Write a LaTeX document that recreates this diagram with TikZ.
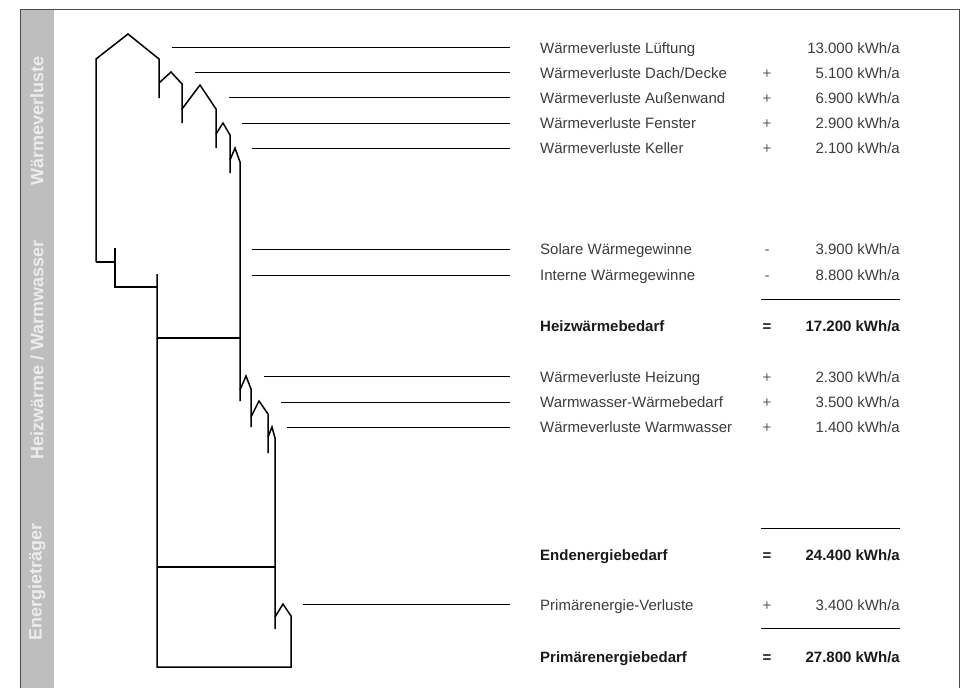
\documentclass[tikz,border=0pt]{standalone}
\usepackage{fontspec}
\setmainfont{Liberation Sans}
\definecolor{bargray}{RGB}{190,190,190}
\definecolor{bartext}{RGB}{236,236,236}
\definecolor{txtgray}{RGB}{60,60,60}
\definecolor{opgray}{RGB}{90,90,90}
\tikzset{
  house/.style={line width=1.5pt, line join=miter},
  leader/.style={line width=0.9pt, shorten >=30pt},
  sumline/.style={line width=0.9pt},
  lbl/.style={anchor=base west, inner sep=0pt, text=txtgray, font=\fontsize{15}{18}\selectfont},
  val/.style={anchor=base east, inner sep=0pt, text=txtgray, font=\fontsize{15}{18}\selectfont},
  op/.style={anchor=base, inner sep=0pt, text=opgray, font=\fontsize{15}{18}\selectfont},
  boldrow/.style={text=black!90, font=\fontsize{15}{18}\selectfont\bfseries},
  bartxt/.style={rotate=90, inner sep=0pt, text=bartext, font=\fontsize{18}{20}\selectfont\bfseries}
}

\begin{document}
\begin{tikzpicture}[x=1pt, y=-1pt]
      \useasboundingbox (0,0) rectangle (960,688);

      % frame and side bar
      \fill [bargray] (20,9) rectangle (54,688);
      \draw [line width=0.9pt, black!70] (20,688) -- (20,9) -- (959,9) -- (959,688);

      \node at (37,121) [bartxt, name=b1] {Wärmeverluste};
      \node at (37,350) [bartxt, name=b2] {Heizwärme / Warmwasser};
      \node at (37,582) [bartxt, name=b3] {Energieträger};

      % the house
      \draw [house] (96,262) -- (96,59) -- (128,34) -- (159,59) -- (159,98);
      \draw [house] (159,83) -- (171,72) -- (182,84) -- (182,123);
      \draw [house] (182,109) -- (200,85) -- (216,109) -- (216,148);
      \draw [house] (216,134) -- (223,123) -- (230,135) -- (230,173);
      \draw [house] (230,160) -- (235,148) -- (240,162) -- (240,401);
      \draw [house] (240,390) -- (246,376) -- (251,389) -- (251,427);
      \draw [house] (251,417) -- (259,401) -- (268,414) -- (268,453);
      \draw [house] (268,437) -- (272,427) -- (275,438) -- (275,629);
      \draw [house] (275,617) -- (283,604) -- (291,616) -- (291,667) -- (157,667) -- (157,274);
      \draw [house] (96,262) -- (115,262);
      \draw [house] (115,248) -- (115,287) -- (157,287);
      \draw [line width=1.1pt] (157,338) -- (240,338);
      \draw [line width=1.1pt] (157,567) -- (275,567);

      % leader start points
      \coordinate (c1) at (172,47);
      \coordinate (c2) at (195,72);
      \coordinate (c3) at (229,97);
      \coordinate (c4) at (242,123);
      \coordinate (c5) at (252,148);
      \coordinate (c6) at (252,249);
      \coordinate (c7) at (252,275);
      \coordinate (c8) at (264,376);
      \coordinate (c9) at (281,402);
      \coordinate (c10) at (287,427);
      \coordinate (c11) at (303,604);

      % labels
      \node at (540,53) [lbl, name=t1] {Wärmeverluste Lüftung};
      \node at (540,78) [lbl, name=t2] {Wärmeverluste Dach/Decke};
      \node at (540,103) [lbl, name=t3] {Wärmeverluste Außenwand};
      \node at (540,128) [lbl, name=t4] {Wärmeverluste Fenster};
      \node at (540,153) [lbl, name=t5] {Wärmeverluste Keller};
      \node at (540,254) [lbl, name=t6] {Solare Wärmegewinne};
      \node at (540,280) [lbl, name=t7] {Interne Wärmegewinne};
      \node at (540,331) [lbl, boldrow, name=t8] {Heizwärmebedarf};
      \node at (540,382) [lbl, name=t9] {Wärmeverluste Heizung};
      \node at (540,407) [lbl, name=t10] {Warmwasser-Wärmebedarf};
      \node at (540,432) [lbl, name=t11] {Wärmeverluste Warmwasser};
      \node at (540,560) [lbl, boldrow, name=t12] {Endenergiebedarf};
      \node at (540,610) [lbl, name=t13] {Primärenergie-Verluste};
      \node at (540,662) [lbl, boldrow, name=t14] {Primärenergiebedarf};

      % operators
      \node at (767,78) [op, name=o2] {+};
      \node at (767,103) [op, name=o3] {+};
      \node at (767,128) [op, name=o4] {+};
      \node at (767,153) [op, name=o5] {+};
      \node at (767,254) [op, name=o6] {-};
      \node at (767,280) [op, name=o7] {-};
      \node at (767,331) [op, boldrow, name=o8] {=};
      \node at (767,382) [op, name=o9] {+};
      \node at (767,407) [op, name=o10] {+};
      \node at (767,432) [op, name=o11] {+};
      \node at (767,560) [op, boldrow, name=o12] {=};
      \node at (767,610) [op, name=o13] {+};
      \node at (767,662) [op, boldrow, name=o14] {=};

      % values
      \node at (900,53) [val, name=v1] {13.000 kWh/a};
      \node at (900,78) [val, name=v2] {5.100 kWh/a};
      \node at (900,103) [val, name=v3] {6.900 kWh/a};
      \node at (900,128) [val, name=v4] {2.900 kWh/a};
      \node at (900,153) [val, name=v5] {2.100 kWh/a};
      \node at (900,254) [val, name=v6] {3.900 kWh/a};
      \node at (900,280) [val, name=v7] {8.800 kWh/a};
      \node at (900,331) [val, boldrow, name=v8] {17.200 kWh/a};
      \node at (900,382) [val, name=v9] {2.300 kWh/a};
      \node at (900,407) [val, name=v10] {3.500 kWh/a};
      \node at (900,432) [val, name=v11] {1.400 kWh/a};
      \node at (900,560) [val, boldrow, name=v12] {24.400 kWh/a};
      \node at (900,610) [val, name=v13] {3.400 kWh/a};
      \node at (900,662) [val, boldrow, name=v14] {27.800 kWh/a};

      % leaders
      \draw [leader] (c1) -- (t1.west |- c1);
      \draw [leader] (c2) -- (t2.west |- c2);
      \draw [leader] (c3) -- (t3.west |- c3);
      \draw [leader] (c4) -- (t4.west |- c4);
      \draw [leader] (c5) -- (t5.west |- c5);
      \draw [leader] (c6) -- (t6.west |- c6);
      \draw [leader] (c7) -- (t7.west |- c7);
      \draw [leader] (c8) -- (t9.west |- c8);
      \draw [leader] (c9) -- (t10.west |- c9);
      \draw [leader] (c10) -- (t11.west |- c10);
      \draw [leader] (c11) -- (t13.west |- c11);

      % sum lines
      \draw [sumline] (761,299) -- (v8.east |- 0,299);
      \draw [sumline] (761,528) -- (v12.east |- 0,528);
      \draw [sumline] (761,628) -- (v14.east |- 0,628);
\end{tikzpicture}
\end{document}
